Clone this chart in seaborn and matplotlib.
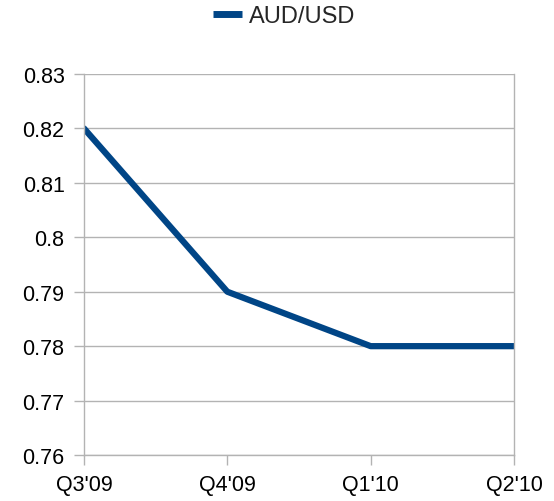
import pandas as pd
import seaborn as sns
import matplotlib.pyplot as plt

# Data
quarters = ["Q3'09", "Q4'09", "Q1'10", "Q2'10"]
aud_usd = [0.82, 0.79, 0.78, 0.78]
y_ticks = [0.76, 0.77, 0.78, 0.79, 0.80, 0.81, 0.82, 0.83]
y_labels = ['0.76', '0.77', '0.78', '0.79', '0.8', '0.81', '0.82', '0.83']

df = pd.DataFrame({'quarter': quarters, 'AUD/USD': aud_usd})

sns.set_style('white')
plt.rcParams['font.family'] = ['Liberation Sans', 'DejaVu Sans']

fig = plt.figure(figsize=(5.54, 5.02), dpi=100)
ax = fig.add_axes([0.1516, 0.0916, 0.7762, 0.759])

sns.lineplot(data=df, x='quarter', y='AUD/USD', ax=ax, color='#004586',
             linewidth=4.5, sort=False, legend=False)

ax.set_xlim(0, len(quarters) - 1)
ax.set_ylim(0.76, 0.83)
ax.set_yticks(y_ticks)
ax.set_yticklabels(y_labels)
ax.grid(axis='y', color='#b3b3b3', linewidth=1)
ax.set_axisbelow(True)
ax.set_xlabel('')
ax.set_ylabel('')

for side in ['left', 'right', 'bottom']:
    ax.spines[side].set_color('#b3b3b3')
    ax.spines[side].set_linewidth(1)
ax.spines['top'].set_visible(False)

ax.tick_params(axis='both', labelsize=15.5, colors='#b3b3b3', labelcolor='black',
               length=7.5, width=1, direction='out')
ax.tick_params(axis='y', left=True, pad=6.5)
ax.tick_params(axis='x', bottom=True, pad=6.5)

# legend centred above the plot
handle = plt.Line2D([], [], color='#004586', linewidth=5, solid_capstyle='butt')
fig.legend([handle], ['AUD/USD'], loc='center', bbox_to_anchor=(0.513, 1 - 17 / 502),
           frameon=False, fontsize=17, handlelength=1.23, handletextpad=0.3)

fig.savefig('out.png', dpi=100)
